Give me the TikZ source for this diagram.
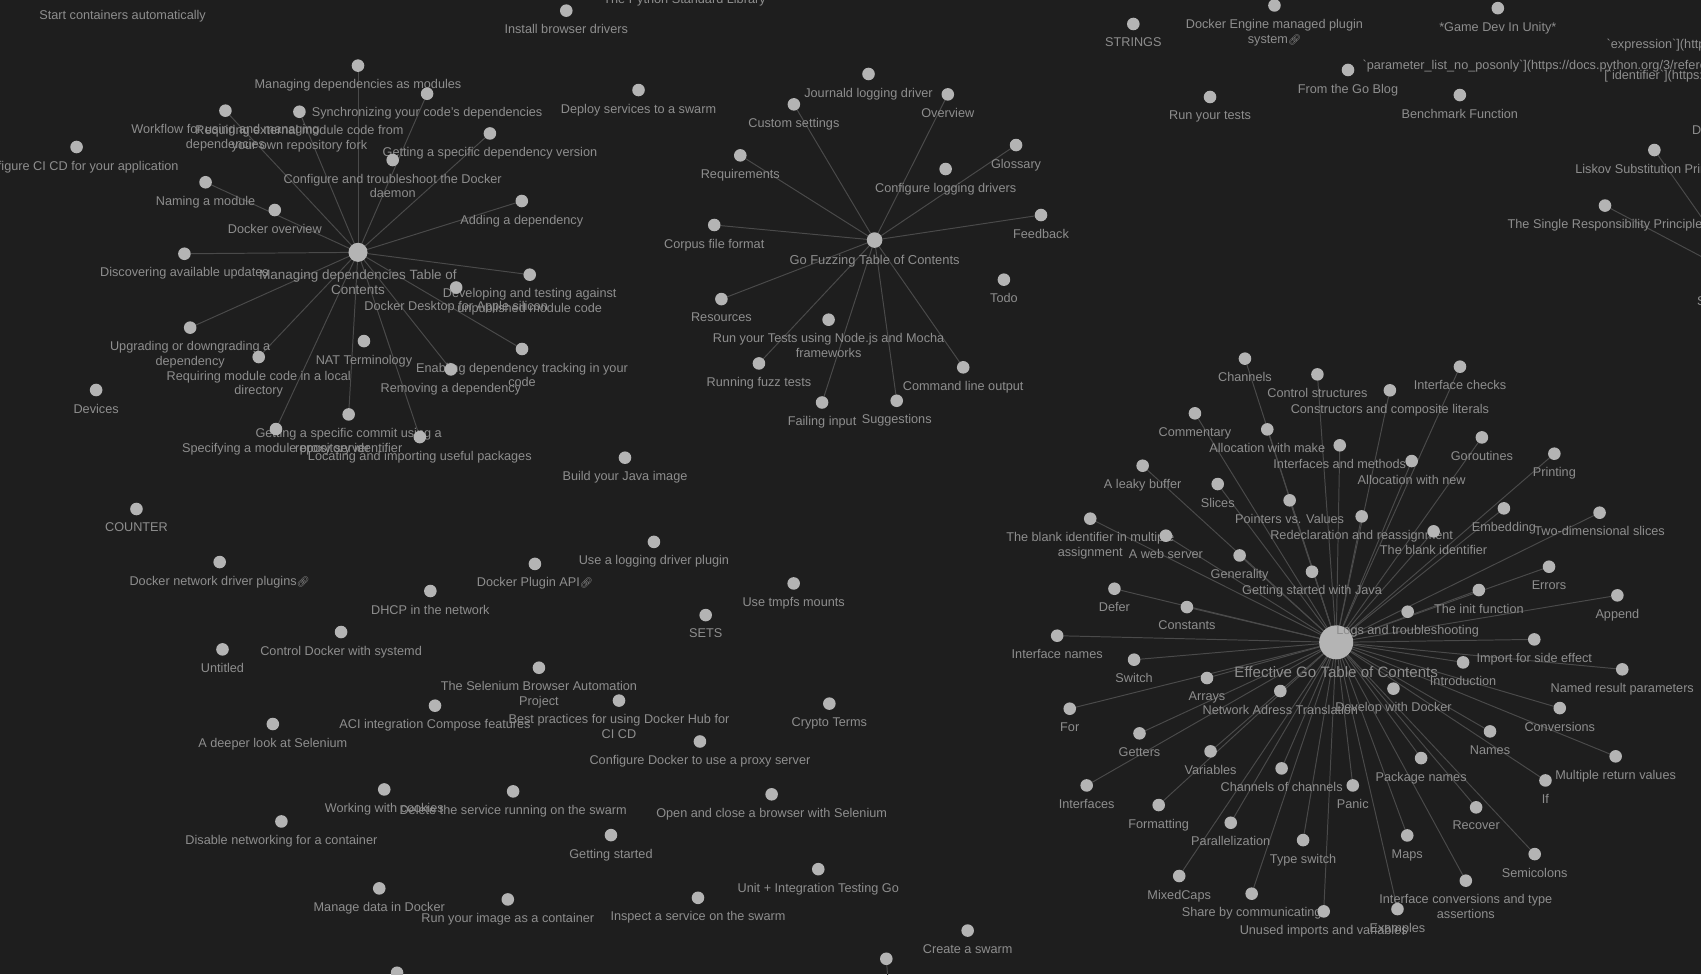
\documentclass[tikz,border=0pt]{standalone}
\usepackage{fontspec}
\setmainfont{Liberation Sans}[Ligatures=TeXOff]
\newfontfamily\emo{Noto Emoji}
\usetikzlibrary{calc}
\pgfdeclarelayer{bglayer}
\pgfsetlayers{bglayer,main}
\definecolor{bgc}{HTML}{1E1E1E}
\definecolor{dotc}{HTML}{B4B4B4}
\definecolor{txtc}{HTML}{8E8E8E}
\definecolor{edgec}{HTML}{4A4A4A}
\newcommand\lnk{{\emo\fontsize{9.5}{12}\selectfont 🔗}}
\newcommand\gn[4]{\node[dot,label={[lbl]below:{#4}}] (#1) at (#2,#3) {};}
\begin{document}
\begin{tikzpicture}[x=1pt,y=-1pt,
  dot/.style={circle,fill=dotc,draw=none,inner sep=0pt,outer sep=0pt,minimum size=11.6pt},
  lbl/.style={text=txtc,font=\fontsize{11.7}{13.7}\selectfont,align=center,inner sep=0pt,outer sep=0pt},
  edge/.style={draw=edgec,line width=0.9pt},
  label distance=7pt]
\useasboundingbox (0,0) rectangle (1568,898);
\begin{pgfonlayer}{bglayer}
\fill[bgc] (0,0) rectangle (1568,898);
\end{pgfonlayer}
\clip (0,0) rectangle (1568,898);

% ---------- Managing dependencies cluster
\node[dot,minimum size=17.6pt,label={[lbl,font=\fontsize{12.4}{14.2}\selectfont]below:{Managing dependencies Table of\\Contents}}] (md) at (330,232.6) {};
\gn{md1}{330}{60.5}{Managing dependencies as modules}
\gn{md2}{393.7}{86.4}{Synchronizing your code’s dependencies}
\gn{md3}{207.8}{102}{Workflow for using and managing\\dependencies}
\gn{md4}{276}{103}{Requiring external module code from\\your own repository fork}
\gn{md5}{451.6}{123}{Getting a specific dependency version}
\gn{md6}{189.5}{168}{Naming a module}
\gn{md7}{481}{185.3}{Adding a dependency}
\gn{md8}{170}{233.9}{Discovering available updates}
\gn{md9}{488.3}{253.2}{Developing and testing against\\unpublished module code}
\gn{md10}{175.3}{302}{Upgrading or downgrading a\\dependency}
\gn{md11}{238.5}{329.1}{Requiring module code in a local\\directory}
\gn{md12}{481.2}{321.7}{Enabling dependency tracking in your\\code}
\gn{md13}{415.6}{340.5}{Removing a dependency}
\gn{md14}{321.4}{382}{Getting a specific commit using a\\repository identifier}
\gn{md15}{254.4}{395.5}{Specifying a module proxy server}
\gn{md16}{387}{402.9}{Locating and importing useful packages}

\gn{dk1}{362}{147.5}{Configure and troubleshoot the Docker\\daemon}
\gn{dk2}{253.3}{193.6}{Docker overview}
\gn{dk3}{420.5}{265}{Docker Desktop for Apple silicon}
\gn{dk4}{335.5}{314.4}{NAT Terminology}
\gn{dv}{88.6}{359.5}{Devices}
\gn{ci}{70.6}{135.5}{Configure CI CD for your application}

% ---------- top row
\node[lbl,anchor=north] (tsc) at (113,9.1) {Start containers automatically};
\node[lbl,anchor=north] (tpy) at (631,-5.5) {The Python Standard Library};
\gn{ib}{522}{9.8}{Install browser drivers}
\gn{ds}{588.6}{83}{Deploy services to a swarm}
\gn{jl}{800.6}{68.2}{Journald logging driver}
\gn{cl}{871.7}{155.8}{Configure logging drivers}
\gn{td}{925.4}{257.8}{Todo}
\gn{rt}{763.8}{294.7}{Run your Tests using Node.js and Mocha\\frameworks}

% ---------- Go Fuzzing cluster
\node[dot,minimum size=14.4pt,label={[lbl,font=\fontsize{11.9}{13.9}\selectfont]below:{Go Fuzzing Table of Contents}}] (gf) at (806.2,221.3) {};
\gn{gf1}{873.7}{87}{Overview}
\gn{gf2}{731.8}{96.2}{Custom settings}
\gn{gf3}{682.4}{143.2}{Requirements}
\gn{gf4}{936.6}{133.7}{Glossary}
\gn{gf5}{959.6}{198.2}{Feedback}
\gn{gf6}{658.4}{207.4}{Corpus file format}
\gn{gf7}{665}{275.7}{Resources}
\gn{gf8}{699.6}{335}{Running fuzz tests}
\gn{gf9}{757.8}{371}{Failing input}
\gn{gf10}{826.6}{369.4}{Suggestions}
\gn{gf11}{887.9}{338.6}{Command line output}

% ---------- top right
\gn{str}{1044.7}{22.1}{STRINGS}
\gn{dem}{1174.8}{5}{Docker Engine managed plugin\\system\lnk}
\gn{gdu}{1380.7}{7.5}{*Game Dev In Unity*}
\gn{fgb}{1242.6}{64.5}{From the Go Blog}
\gn{ryt}{1115.4}{89.4}{Run your tests}
\gn{bf}{1345.7}{87.6}{Benchmark Function}
\node[lbl,anchor=north west] (tpl) at (1256,55.8) {`parameter\_list\_no\_posonly`](https://docs.python.org/3/reference/compound\_stmts.html)};
\node[lbl,anchor=north west] (tex) at (1481,36.5) {`expression`](https://docs.python.org)};
\node[lbl,anchor=north west] (tid) at (1478.8,64.6) {[`identifier`](https://docs.python.org)};
\gn{lsp}{1525}{138.3}{Liskov Substitution Principle}
\gn{srp}{1479.5}{189.5}{The Single Responsibility Principle}
\gn{dip}{1642}{103}{Dependency Inversion Principle}
\node[dot,minimum size=16pt,label={[lbl]below:{SOLID Principles}}] (solid) at (1609,258) {};

% ---------- isolated notes
\gn{bj}{576.1}{421.9}{Build your Java image}
\gn{cnt}{125.8}{469.2}{COUNTER}
\gn{dnd}{202.5}{518.1}{Docker network driver plugins\lnk}
\gn{dpa}{493.1}{519.8}{Docker Plugin API\lnk}
\gn{uld}{602.8}{499.5}{Use a logging driver plugin}
\gn{utm}{731.6}{537.8}{Use tmpfs mounts}
\gn{dhcp}{396.7}{544.8}{DHCP in the network}
\gn{sets}{650.5}{567}{SETS}
\gn{cds}{314.4}{582.6}{Control Docker with systemd}
\gn{unt}{205.1}{598.6}{Untitled}
\gn{sba}{496.8}{615.5}{The Selenium Browser Automation\\Project}
\gn{bpd}{570.6}{645.8}{Best practices for using Docker Hub for\\CI CD}
\gn{ct}{764.5}{648.6}{Crypto Terms}
\gn{aci}{401}{650.5}{ACI integration Compose features}
\gn{dls}{251.5}{667.4}{A deeper look at Selenium}
\gn{cdp}{645.2}{683.5}{Configure Docker to use a proxy server}
\gn{wwc}{354.2}{727.7}{Working with cookies}
\gn{dsr}{473}{729.5}{Delete the service running on the swarm}
\gn{ocb}{711.3}{732.2}{Open and close a browser with Selenium}
\gn{dnc}{259.4}{757.2}{Disable networking for a container}
\gn{gs}{563.2}{769.8}{Getting started}
\gn{uit}{754.3}{801.2}{Unit + Integration Testing Go}
\gn{mdd}{349.6}{818.9}{Manage data in Docker}
\gn{isw}{643.4}{827.6}{Inspect a service on the swarm}
\gn{ryi}{468.1}{829.1}{Run your image as a container}
\gn{cas}{892}{857.8}{Create a swarm}
\node[dot] (bn1) at (817,883.8) {};
\coordinate (bn1off) at (823,960);
\node[dot] (bn2) at (366,896.7) {};

% ---------- Effective Go cluster
\node[dot,minimum size=31.4pt,label={[lbl,font=\fontsize{13.9}{16}\selectfont]below:{Effective Go Table of Contents}}] (eg) at (1231.7,592.1) {};
\gn{g1}{1147.6}{330.6}{Channels}
\gn{g2}{1214.4}{345.1}{Control structures}
\gn{g3}{1345.8}{338}{Interface checks}
\gn{g4}{1281.2}{359.8}{Constructors and composite literals}
\gn{g5}{1101.5}{381}{Commentary}
\gn{g6}{1168.2}{395.8}{Allocation with make}
\gn{g7}{1235}{410.5}{Interfaces and methods}
\gn{g8}{1366}{403.2}{Goroutines}
\gn{g9}{1432.8}{418.2}{Printing}
\gn{g10}{1301.3}{425}{Allocation with new}
\gn{g11}{1053.3}{429.3}{A leaky buffer}
\gn{g12}{1122.5}{446.2}{Slices}
\gn{g13}{1188.8}{461.2}{Pointers vs. Values}
\gn{g14}{1386.3}{468.6}{Embedding}
\gn{g15}{1255.2}{476}{Redeclaration and reassignment}
\gn{g16}{1474.5}{472.6}{Two-dimensional slices}
\gn{g17}{1005}{478.1}{The blank identifier in multiple\\assignment}
\gn{g18}{1074.7}{493.8}{A web server}
\gn{g19}{1321.5}{489.8}{The blank identifier}
\gn{g20}{1142.7}{512}{Generality}
\gn{g21}{1427.9}{522.4}{Errors}
\gn{g22}{1027.3}{542.7}{Defer}
\gn{g23}{1363.2}{543.9}{The init function}
\gn{g24}{1490.9}{548.8}{Append}
\gn{g25}{1094.1}{559.6}{Constants}
\gn{g26}{974.5}{586}{Interface names}
\gn{g27}{1414.3}{589.4}{Import for side effect}
\gn{g28}{1045.4}{608.1}{Switch}
\gn{g29}{1348.7}{610.6}{Introduction}
\gn{g30}{1495.4}{617}{Named result parameters}
\gn{g31}{1112.6}{625}{Arrays}
\gn{g32}{986.1}{653.3}{For}
\gn{g33}{1437.8}{652.7}{Conversions}
\gn{g34}{1050.4}{676}{Getters}
\gn{g35}{1373.5}{674.2}{Names}
\gn{g36}{1115.9}{692.6}{Variables}
\gn{g37}{1489.3}{697.2}{Multiple return values}
\gn{g38}{1310}{698.8}{Package names}
\gn{g39}{1181.4}{708.3}{Channels of channels}
\gn{g40}{1001.7}{724}{Interfaces}
\gn{g41}{1247}{724}{Panic}
\gn{g42}{1424.6}{719.4}{If}
\gn{g43}{1068.1}{742.1}{Formatting}
\gn{g44}{1360.7}{744.2}{Recover}
\gn{g45}{1134.5}{758.4}{Parallelization}
\gn{g46}{1201.2}{774.4}{Type switch}
\gn{g47}{1297.2}{770.1}{Maps}
\gn{g48}{1414.7}{787.3}{Semicolons}
\gn{g49}{1087}{807.5}{MixedCaps}
\gn{g50}{1351.2}{811.8}{Interface conversions and type\\assertions}
\gn{g51}{1153.8}{823.8}{Share by communicating}
\gn{g52}{1220.2}{840.1}{Unused imports and variables}
\gn{g53}{1288.2}{838}{Examples}
\gn{gj}{1209.4}{527}{Getting started with Java}
\gn{lt}{1297.6}{563.9}{Logs and troubleshooting}
\gn{nat}{1180.2}{637}{Network Adress Translation}
\gn{dwd}{1284.5}{634.8}{Develop with Docker}

% ---------- connectors
\begin{pgfonlayer}{bglayer}
\foreach \i in {1,...,16} \draw[edge] (md) -- (md\i);
\foreach \i in {1,...,11} \draw[edge] (gf) -- (gf\i);
\foreach \i in {1,...,53} \draw[edge] (eg) -- (g\i);
\draw[edge] (solid) -- (lsp);
\draw[edge] (solid) -- (srp);
\draw[edge] (solid) -- (dip);
\draw[edge] (bn1) -- (bn1off);
\end{pgfonlayer}
\end{tikzpicture}
\end{document}
